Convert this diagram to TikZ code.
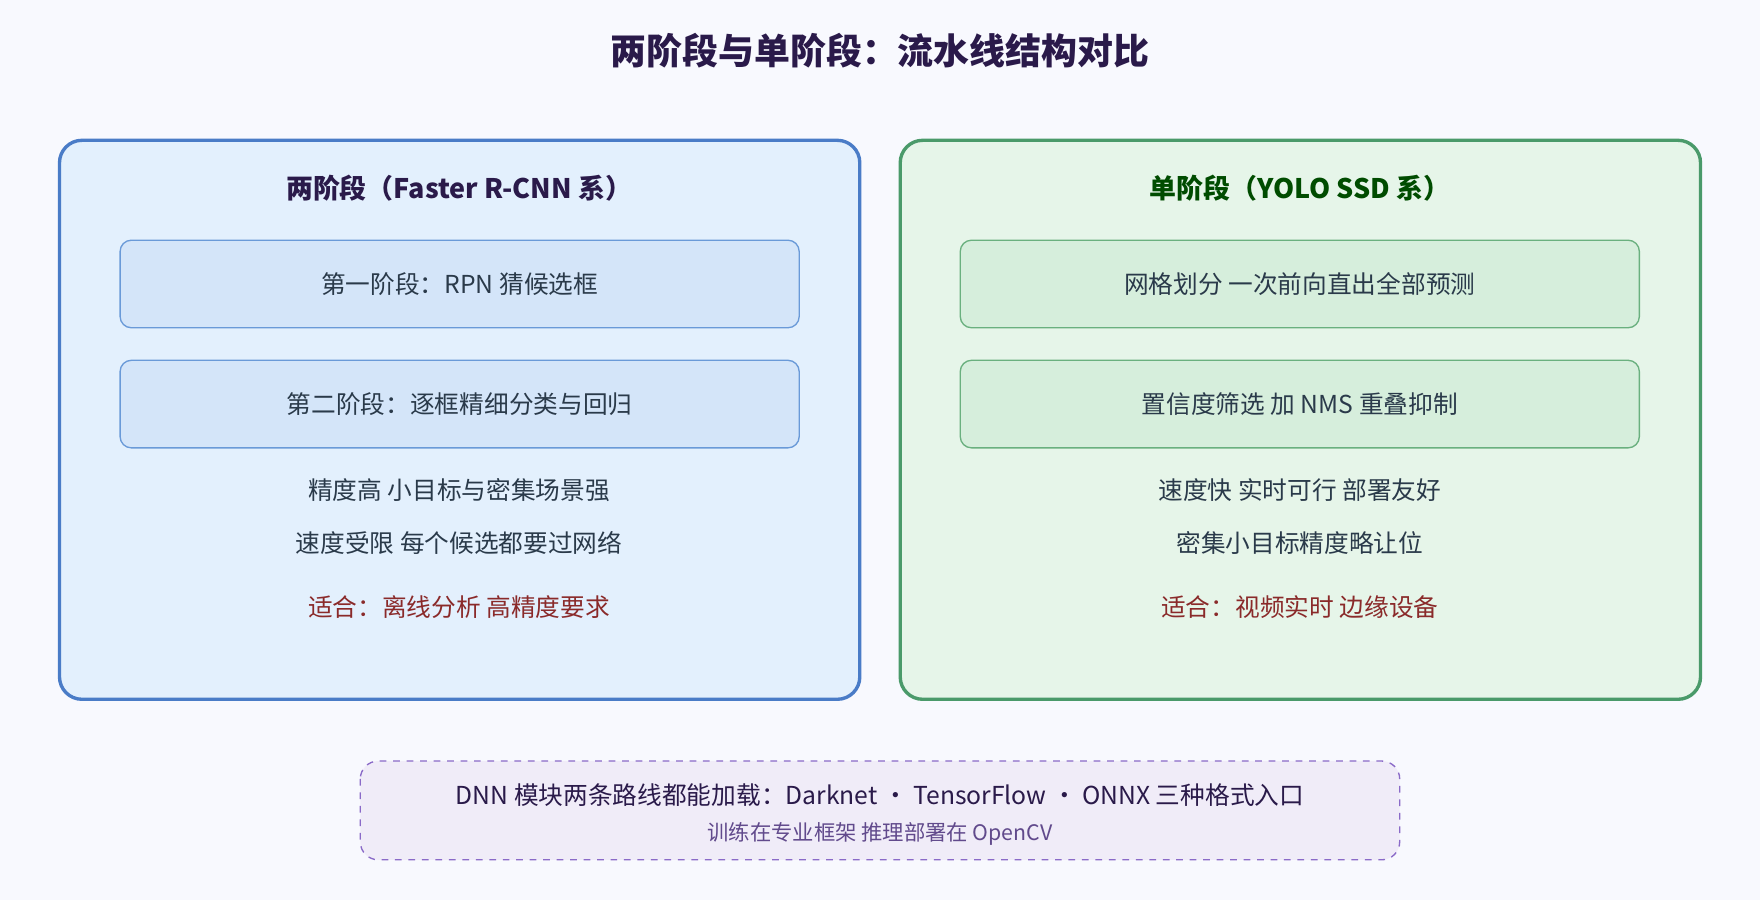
\documentclass[tikz,border=0pt]{standalone}
\usepackage{fontspec}
\setmainfont{Noto Sans CJK SC}
\usetikzlibrary{positioning}
\definecolor{bgc}{HTML}{F8F9FE}
\definecolor{titlec}{HTML}{2A1A4A}
\definecolor{bluefill}{HTML}{E3F0FD}
\definecolor{bluedraw}{HTML}{4A7CC7}
\definecolor{blueinner}{HTML}{D4E5F9}
\definecolor{blueinnerdraw}{HTML}{6A9AD8}
\definecolor{greenfill}{HTML}{E6F5E9}
\definecolor{greendraw}{HTML}{4A9A6A}
\definecolor{greeninner}{HTML}{D6EEDC}
\definecolor{greeninnerdraw}{HTML}{6AB07F}
\definecolor{notefill}{HTML}{F0ECF8}
\definecolor{notedraw}{HTML}{8A6AC8}
\definecolor{redtext}{HTML}{8A2A2A}
\definecolor{bodytext}{HTML}{2A3A4A}
\begin{document}
\begin{tikzpicture}[
    x=0.5pt, y=-0.5pt,
    every node/.style={font=\fontsize{11}{13}\selectfont, text=bodytext},
    panel/.style={rectangle, rounded corners=10pt, line width=1.5pt},
    stage/.style={rectangle, rounded corners=5pt, line width=0.6pt, minimum width=302.5pt, minimum height=39pt, align=center},
    head/.style={font=\fontsize{12}{14}\selectfont\bfseries},
    note/.style={text=redtext}
]
\fill[bgc] (0,0) rectangle (1568,802);

% title
\node[font=\fontsize{16}{18}\selectfont\bfseries, text=titlec] (title) at (784,45) {两阶段与单阶段：流水线结构对比};

% two-stage panel
\draw[panel, fill=bluefill, draw=bluedraw] (53,125) rectangle (766,623);
\node[head, text=titlec] (lhead) at (409,168) {两阶段（Faster R-CNN 系）};
\node[stage, fill=blueinner, draw=blueinnerdraw] (rpn) at (409.5,253) {第一阶段：RPN 猜候选框};
\node[stage, fill=blueinner, draw=blueinnerdraw] (refine) at (409.5,360) {第二阶段：逐框精细分类与回归};
\node (lpro) at (409,437) {精度高 小目标与密集场景强};
\node (lcon) at (409,484) {速度受限 每个候选都要过网络};
\node[note] (luse) at (409,541) {适合：离线分析 高精度要求};

% one-stage panel
\draw[panel, fill=greenfill, draw=greendraw] (802,125) rectangle (1515,623);
\node[head, text=green!30!black] (rhead) at (1158,168) {单阶段（YOLO SSD 系）};
\node[stage, fill=greeninner, draw=greeninnerdraw] (grid) at (1158,253) {网格划分 一次前向直出全部预测};
\node[stage, fill=greeninner, draw=greeninnerdraw] (nms) at (1158,360) {置信度筛选 加 NMS 重叠抑制};
\node (rpro) at (1158,437) {速度快 实时可行 部署友好};
\node (rcon) at (1158,484) {密集小目标精度略让位};
\node[note] (ruse) at (1158,541) {适合：视频实时 边缘设备};

% bottom note
\draw[rounded corners=8pt, fill=notefill, draw=notedraw, dashed, line width=0.6pt] (321,678) rectangle (1247,766);
\node[text=titlec] (dnn) at (784,708) {DNN 模块两条路线都能加载：Darknet · TensorFlow · ONNX 三种格式入口};
\node[font=\fontsize{9.5}{11}\selectfont, text=notedraw!70!black] (train) at (784,743) {训练在专业框架 推理部署在 OpenCV};
\end{tikzpicture}
\end{document}
